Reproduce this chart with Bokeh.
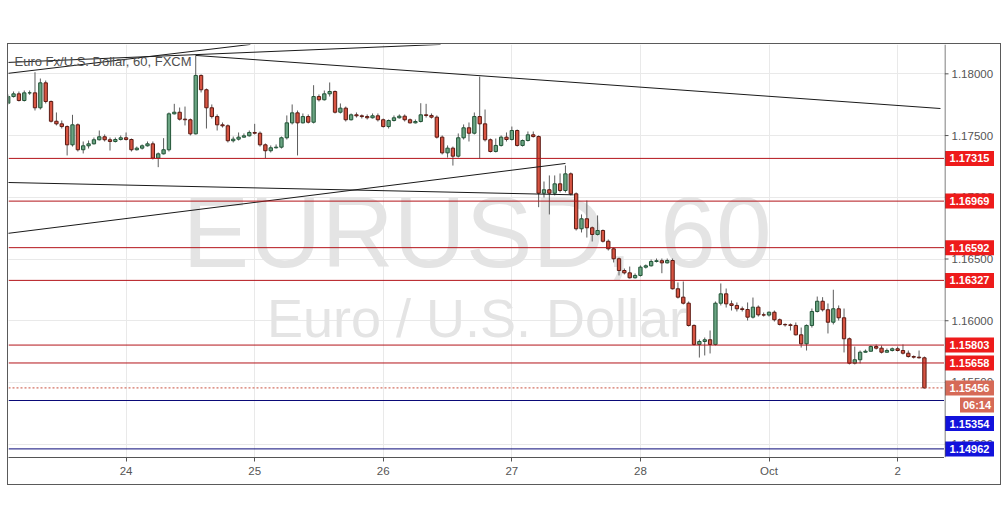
from bokeh.plotting import figure
from bokeh.models import (ColumnDataSource, Span, Label, FixedTicker, Range1d, Spacer, Grid, Row)
from bokeh.layouts import column, row
from bokeh.embed import file_html
from bokeh.resources import INLINE
from bokeh.core.properties import value

# ---------------- data (EURUSD, 60 min, FXCM) ----------------
open_ = [
    1.17762, 1.17816, 1.17838, 1.17784, 1.17846, 1.17846, 1.17725, 1.17927, 1.17776, 1.17616,
    1.17595, 1.17573, 1.17425, 1.17587, 1.17385, 1.17417, 1.17433, 1.17466, 1.17490, 1.17466,
    1.17452, 1.17468, 1.17482, 1.17468, 1.17385, 1.17398, 1.17417, 1.17433, 1.17317, 1.17352,
    1.17385, 1.17676, 1.17689, 1.17633, 1.17628, 1.17514, 1.17987, 1.17871, 1.17725, 1.17654,
    1.17587, 1.17579, 1.17458, 1.17471, 1.17487, 1.17498, 1.17525, 1.17519, 1.17425, 1.17377,
    1.17401, 1.17406, 1.17482, 1.17603, 1.17684, 1.17603, 1.17654, 1.17608, 1.17816, 1.17790,
    1.17838, 1.17857, 1.17689, 1.17722, 1.17628, 1.17668, 1.17660, 1.17654, 1.17644, 1.17660,
    1.17628, 1.17573, 1.17622, 1.17644, 1.17657, 1.17628, 1.17603, 1.17614, 1.17668, 1.17663,
    1.17649, 1.17487, 1.17360, 1.17398, 1.17333, 1.17482, 1.17563, 1.17519, 1.17654, 1.17595,
    1.17466, 1.17371, 1.17420, 1.17487, 1.17468, 1.17541, 1.17420, 1.17460, 1.17506, 1.17492,
    1.17033, 1.17061, 1.17033, 1.17109, 1.17055, 1.17190, 1.17028, 1.16745, 1.16826, 1.16753,
    1.16699, 1.16731, 1.16644, 1.16583, 1.16502, 1.16407, 1.16388, 1.16348, 1.16367, 1.16434,
    1.16445, 1.16480, 1.16486, 1.16469, 1.16488, 1.16259, 1.16191, 1.16142, 1.15962, 1.15808,
    1.15832, 1.15846, 1.15808, 1.16142, 1.16218, 1.16137, 1.16124, 1.16097, 1.16091, 1.16029,
    1.16110, 1.16048, 1.16046, 1.16069, 1.16008, 1.15970, 1.15967, 1.15962, 1.15886, 1.15813,
    1.15962, 1.16075, 1.16158, 1.16089, 1.15988, 1.16097, 1.16024, 1.15854, 1.15656, 1.15684,
    1.15745, 1.15753, 1.15791, 1.15778, 1.15745, 1.15759, 1.15773, 1.15759, 1.15737, 1.15710,
    1.15705, 1.15700,
]
high = [
    1.17833, 1.17857, 1.17857, 1.17865, 1.17865, 1.18013, 1.17962, 1.17946, 1.17784, 1.17687,
    1.17622, 1.17582, 1.17668, 1.17598, 1.17452, 1.17460, 1.17484, 1.17541, 1.17509, 1.17484,
    1.17484, 1.17501, 1.17525, 1.17476, 1.17411, 1.17428, 1.17452, 1.17452, 1.17363, 1.17479,
    1.17687, 1.17757, 1.17727, 1.17735, 1.17638, 1.18149, 1.17995, 1.17881, 1.17752, 1.17671,
    1.17606, 1.17590, 1.17492, 1.17525, 1.17517, 1.17541, 1.17595, 1.17533, 1.17436, 1.17420,
    1.17428, 1.17492, 1.17663, 1.17752, 1.17703, 1.17679, 1.17671, 1.17908, 1.17833, 1.17865,
    1.17930, 1.17865, 1.17760, 1.17735, 1.17679, 1.17687, 1.17671, 1.17671, 1.17679, 1.17679,
    1.17638, 1.17630, 1.17663, 1.17671, 1.17671, 1.17638, 1.17630, 1.17762, 1.17757, 1.17679,
    1.17663, 1.17501, 1.17420, 1.17411, 1.17517, 1.17590, 1.17606, 1.17687, 1.17978, 1.17711,
    1.17476, 1.17476, 1.17501, 1.17525, 1.17573, 1.17549, 1.17468, 1.17533, 1.17533, 1.17501,
    1.17128, 1.17177, 1.17177, 1.17193, 1.17258, 1.17201, 1.17039, 1.16861, 1.16974, 1.16763,
    1.16853, 1.16739, 1.16658, 1.16593, 1.16512, 1.16423, 1.16439, 1.16383, 1.16448, 1.16456,
    1.16496, 1.16504, 1.16504, 1.16504, 1.16504, 1.16310, 1.16318, 1.16156, 1.15970, 1.15848,
    1.15864, 1.15921, 1.16156, 1.16302, 1.16261, 1.16164, 1.16148, 1.16115, 1.16148, 1.16188,
    1.16124, 1.16067, 1.16075, 1.16083, 1.16018, 1.15978, 1.15978, 1.15986, 1.15945, 1.15970,
    1.16099, 1.16196, 1.16191, 1.16140, 1.16251, 1.16124, 1.16099, 1.15864, 1.15791, 1.15759,
    1.15767, 1.15800, 1.15808, 1.15800, 1.15775, 1.15783, 1.15791, 1.15808, 1.15759, 1.15719,
    1.15759, 1.15710,
]
low = [
    1.17752, 1.17808, 1.17776, 1.17776, 1.17830, 1.17703, 1.17711, 1.17760, 1.17606, 1.17582,
    1.17557, 1.17339, 1.17411, 1.17371, 1.17355, 1.17395, 1.17428, 1.17460, 1.17452, 1.17379,
    1.17444, 1.17460, 1.17460, 1.17371, 1.17379, 1.17387, 1.17411, 1.17306, 1.17244, 1.17347,
    1.17371, 1.17671, 1.17622, 1.17582, 1.17501, 1.17509, 1.17849, 1.17557, 1.17638, 1.17541,
    1.17565, 1.17444, 1.17444, 1.17460, 1.17484, 1.17492, 1.17509, 1.17411, 1.17317, 1.17363,
    1.17395, 1.17395, 1.17468, 1.17590, 1.17339, 1.17598, 1.17598, 1.17598, 1.17776, 1.17784,
    1.17816, 1.17679, 1.17679, 1.17614, 1.17622, 1.17646, 1.17638, 1.17630, 1.17638, 1.17614,
    1.17565, 1.17557, 1.17614, 1.17638, 1.17614, 1.17598, 1.17598, 1.17606, 1.17646, 1.17638,
    1.17476, 1.17347, 1.17322, 1.17257, 1.17322, 1.17468, 1.17452, 1.17509, 1.17314, 1.17452,
    1.17363, 1.17363, 1.17411, 1.17452, 1.17460, 1.17411, 1.17411, 1.17452, 1.17484, 1.16920,
    1.16998, 1.16861, 1.17015, 1.17039, 1.17039, 1.17015, 1.16731, 1.16715, 1.16674, 1.16642,
    1.16691, 1.16634, 1.16569, 1.16472, 1.16367, 1.16375, 1.16342, 1.16342, 1.16358, 1.16423,
    1.16439, 1.16472, 1.16385, 1.16464, 1.16253, 1.16180, 1.16132, 1.15953, 1.15800, 1.15702,
    1.15719, 1.15735, 1.15800, 1.16124, 1.16107, 1.16083, 1.16075, 1.16075, 1.16002, 1.16018,
    1.16034, 1.16034, 1.16034, 1.15994, 1.15962, 1.15953, 1.15921, 1.15881, 1.15783, 1.15759,
    1.15945, 1.16067, 1.16075, 1.15897, 1.15970, 1.16002, 1.15743, 1.15646, 1.15646, 1.15654,
    1.15743, 1.15751, 1.15767, 1.15735, 1.15743, 1.15751, 1.15751, 1.15727, 1.15702, 1.15694,
    1.15694, 1.15451,
]
close = [
    1.17816, 1.17838, 1.17784, 1.17846, 1.17846, 1.17725, 1.17927, 1.17776, 1.17616, 1.17595,
    1.17573, 1.17425, 1.17587, 1.17385, 1.17417, 1.17433, 1.17466, 1.17490, 1.17466, 1.17452,
    1.17468, 1.17482, 1.17468, 1.17385, 1.17398, 1.17417, 1.17433, 1.17317, 1.17352, 1.17385,
    1.17676, 1.17689, 1.17633, 1.17628, 1.17514, 1.17987, 1.17871, 1.17725, 1.17654, 1.17587,
    1.17579, 1.17458, 1.17471, 1.17487, 1.17498, 1.17525, 1.17519, 1.17425, 1.17377, 1.17401,
    1.17406, 1.17482, 1.17603, 1.17684, 1.17603, 1.17654, 1.17608, 1.17816, 1.17790, 1.17838,
    1.17857, 1.17689, 1.17722, 1.17628, 1.17668, 1.17660, 1.17654, 1.17644, 1.17660, 1.17628,
    1.17573, 1.17622, 1.17644, 1.17657, 1.17628, 1.17603, 1.17614, 1.17668, 1.17663, 1.17649,
    1.17487, 1.17360, 1.17398, 1.17333, 1.17482, 1.17563, 1.17519, 1.17654, 1.17595, 1.17466,
    1.17371, 1.17420, 1.17487, 1.17468, 1.17541, 1.17420, 1.17460, 1.17506, 1.17492, 1.17033,
    1.17061, 1.17033, 1.17109, 1.17055, 1.17190, 1.17028, 1.16745, 1.16826, 1.16753, 1.16699,
    1.16731, 1.16644, 1.16583, 1.16502, 1.16407, 1.16388, 1.16348, 1.16367, 1.16434, 1.16445,
    1.16480, 1.16486, 1.16469, 1.16488, 1.16259, 1.16191, 1.16142, 1.15962, 1.15808, 1.15832,
    1.15846, 1.15808, 1.16142, 1.16218, 1.16137, 1.16124, 1.16097, 1.16091, 1.16029, 1.16110,
    1.16048, 1.16046, 1.16069, 1.16008, 1.15970, 1.15967, 1.15962, 1.15886, 1.15813, 1.15962,
    1.16075, 1.16158, 1.16089, 1.15988, 1.16097, 1.16024, 1.15854, 1.15656, 1.15684, 1.15745,
    1.15753, 1.15791, 1.15778, 1.15745, 1.15759, 1.15773, 1.15759, 1.15737, 1.15710, 1.15705,
    1.15700, 1.15456,
]

day_ticks = [22, 46, 70, 94, 118, 142, 166]
day_labels = ["24", "25", "26", "27", "28", "Oct", "2"]
price_ticks = [1.150, 1.155, 1.160, 1.165, 1.170, 1.175, 1.180]

red_levels = [1.17315, 1.16969, 1.16592, 1.16327, 1.15803, 1.15658]
blue_levels = [1.15354, 1.14962]
blue_label_shift = [23, 0]           # px the tag is pushed down to avoid overlap
last_price = 1.15456
countdown = "06:14"

# drawn trend lines (bar index, price)
trend_x0 = [-0.2, -0.2, 35.0, -0.2, -0.2]
trend_y0 = [1.18092, 1.18003, 1.18149, 1.16707, 1.17120]
trend_x1 = [80.7, 45.2, 174.0, 104.0, 105.5]
trend_y1 = [1.18238, 1.18238, 1.17719, 1.17274, 1.17020]

symbol_text = "EURUSD, 60"
desc_text = "Euro / U.S. Dollar"
title_text = "Euro Fx/U.S. Dollar, 60, FXCM"

# ---------------- main chart ----------------
n = min(len(open_), len(high), len(low), len(close))
up = [close[i] >= open_[i] for i in range(n)]
src = ColumnDataSource(dict(
    x=list(range(n)), h=high[:n], l=low[:n],
    top=[max(open_[i], close[i]) for i in range(n)],
    bot=[min(open_[i], close[i]) for i in range(n)],
    fill=["#6ba583" if u else "#d75442" for u in up],
    edge=["#225437" if u else "#5b1a13" for u in up],
))

FRAME_H = 413
X0, X1 = 0.056, 174.75
Y0, Y1 = 1.148923, 1.182376
PX = (Y1 - Y0) / FRAME_H          # price per screen pixel
FONT = "Liberation Sans"
yr = Range1d(Y0, Y1)

p = figure(width=936, height=440, x_range=Range1d(X0, X1), y_range=yr,
           output_backend="svg", toolbar_location=None, y_axis_location=None,
           min_border_left=0, min_border_top=0, min_border_right=0, min_border_bottom=27)
p.background_fill_color = "white"
p.border_fill_color = "white"
p.outline_line_color = None

p.xgrid.grid_line_color = "#e9e9e9"
p.add_layout(Grid(dimension=1, ticker=FixedTicker(ticks=price_ticks), grid_line_color="#e9e9e9"))

p.xaxis.ticker = FixedTicker(ticks=day_ticks)
p.xaxis.major_label_overrides = {t: l for t, l in zip(day_ticks, day_labels)}
p.xaxis.axis_line_color = "#555555"
p.xaxis.major_tick_line_color = "#555555"
p.xaxis.minor_tick_line_color = None
p.xaxis.major_tick_in = 0
p.xaxis.major_tick_out = 4
p.xaxis.major_label_text_color = "#555555"
p.xaxis.major_label_text_font = FONT
p.xaxis.major_label_text_font_size = "11.5px"
p.xaxis.major_label_standoff = 3

# watermark
p.text(x=[87.5], y=[1.16715], text=[symbol_text], text_font=value(FONT),
       text_font_size=value("100px"), text_color="#e4e4e4",
       text_align="center", text_baseline="alphabetic")
p.text(x=[87.5], y=[1.16026], text=[desc_text], text_font=value(FONT),
       text_font_size=value("54px"), text_color="#e4e4e4",
       text_align="center", text_baseline="alphabetic")

# candles
p.segment(x0="x", y0="l", x1="x", y1="h", source=src, line_color="#5d5d5d", line_width=1)
p.vbar(x="x", width=0.62, top="top", bottom="bot", source=src,
       fill_color="fill", line_color="edge", line_width=1)

# trend lines
p.segment(x0=trend_x0, y0=trend_y0, x1=trend_x1, y1=trend_y1, line_color="#1a1a1a", line_width=1)

# horizontal levels
for lv in red_levels:
    p.add_layout(Span(location=lv, dimension="width", line_color="#b3141a", line_width=1))
for lv in blue_levels:
    p.add_layout(Span(location=lv, dimension="width", line_color="#0a0a78", line_width=1))
p.add_layout(Span(location=last_price, dimension="width", line_color="#c9503d",
                  line_width=1, line_dash="2 2"))

p.add_layout(Label(x=1.18, y=1.18100, text=title_text, text_font=FONT, text_font_size="13px",
                   text_color="#4f4f4f", text_baseline="alphabetic", text_align="left"))

# ---------------- price scale (right) ----------------
q = figure(width=56, height=440, x_range=Range1d(0, 56), y_range=yr,
           output_backend="svg", toolbar_location=None,
           x_axis_location=None, y_axis_location=None,
           min_border_left=0, min_border_top=0, min_border_right=0, min_border_bottom=27)
q.background_fill_color = "white"
q.border_fill_color = "white"
q.outline_line_color = None
q.xgrid.visible = False
q.ygrid.visible = False

q.add_layout(Span(location=0.5, dimension="height", line_color="#555555", line_width=1))
q.segment(x0=[0] * len(price_ticks), y0=price_ticks, x1=[4] * len(price_ticks), y1=price_ticks,
          line_color="#555555", line_width=1)
q.text(x=[7] * len(price_ticks), y=price_ticks, text=[f"{t:.5f}" for t in price_ticks],
       text_font=value(FONT), text_font_size=value("11.5px"), text_color="#555555",
       text_align="left", text_baseline="middle")

tag_y, tag_text, tag_col, tag_x, tag_w = [], [], [], [], []
for lv in red_levels:
    tag_y.append(lv); tag_text.append(f"{lv:.5f}"); tag_col.append("#ee1b1b")
    tag_x.append(25); tag_w.append(49)
tag_y.append(last_price); tag_text.append(f"{last_price:.5f}"); tag_col.append("#d66a57")
tag_x.append(25); tag_w.append(49)
tag_y.append(last_price - 17 * PX); tag_text.append(countdown); tag_col.append("#d66a57")
tag_x.append(32.5); tag_w.append(34)
for lv, sh in zip(blue_levels, blue_label_shift):
    tag_y.append(lv - sh * PX); tag_text.append(f"{lv:.5f}"); tag_col.append("#1212dc")
    tag_x.append(25); tag_w.append(49)

tsrc = ColumnDataSource(dict(x=tag_x, y=tag_y, w=tag_w, t=tag_text, c=tag_col))
q.rect(x="x", y="y", width="w", height=15, height_units="screen", source=tsrc,
       fill_color="c", line_color=None)
q.text(x="x", y="y", text="t", source=tsrc, text_font=value(FONT),
       text_font_size=value("11px"), text_font_style="bold", text_color="white",
       text_align="center", text_baseline="middle")

chart = Row(children=[p, q], styles={"outline": "1px solid #5a5a5a"})
layout = column(Spacer(width=1000, height=44), row(Spacer(width=8, height=440), chart))
open("out.html", "w").write(file_html(layout, INLINE))
